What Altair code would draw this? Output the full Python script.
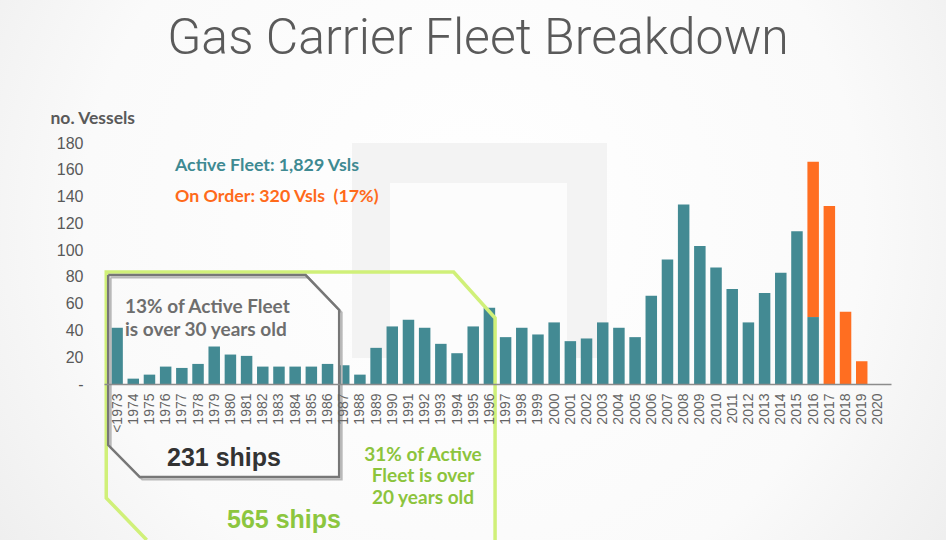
import json
import altair as alt
import pandas as pd

# ---------------- data ----------------
years = ['<1973', '1974', '1975', '1976', '1977', '1978', '1979', '1980', '1981', '1982',
         '1983', '1984', '1985', '1986', '1987', '1988', '1989', '1990', '1991', '1992',
         '1993', '1994', '1995', '1996', '1997', '1998', '1999', '2000', '2001', '2002',
         '2003', '2004', '2005', '2006', '2007', '2008', '2009', '2010', '2011', '2012',
         '2013', '2014', '2015', '2016', '2017', '2018', '2019', '2020']
active = [42, 4, 7, 13, 12, 15, 28, 22, 21, 13, 13, 13, 13, 15,
          14, 7, 27, 43, 48, 42, 30, 23, 43, 57,
          35, 42, 37, 46, 32, 34, 46, 42, 35, 66,
          93, 134, 103, 87, 71, 46, 68, 83, 114, 50,
          0, 0, 0, 0]
on_order = [0] * 43 + [116, 133, 54, 17, 0]
y_ticks = [0, 20, 40, 60, 80, 100, 120, 140, 160, 180]
y_tick_labels = ['-', '20', '40', '60', '80', '100', '120', '140', '160', '180']

# annotation outlines in data units (category index, vessels)
green_idx = [1.83, -0.67, -0.67, 20.79, 23.35, 23.35]
green_val = [-116.5, -85.1, 83.6, 83.6, 49.3, -116.5]
gray_idx = [-0.55, 11.65, 13.72, 13.72, 1.40, -0.55, -0.55]
gray_val = [81.4, 81.4, 55.3, -69.5, -69.5, -45.6, 81.4]

rows = []
for i, (lab, a, o) in enumerate(zip(years, active, on_order)):
    rows.append({'idx': i, 'year': lab, 'series': 'Active', 'base': 0, 'top': a})
    rows.append({'idx': i, 'year': lab, 'series': 'On Order', 'base': a, 'top': a + o})
bar_df = pd.DataFrame(rows)
bar_df = bar_df[bar_df['top'] > bar_df['base']]
green_df = pd.DataFrame({'k': range(len(green_idx)), 'idx': green_idx, 'val': green_val})
gray_df = pd.DataFrame({'k': range(len(gray_idx)), 'idx': gray_idx, 'val': gray_val})

W, H = 787, 241
PAD = {'left': 104, 'top': 143, 'right': 55, 'bottom': 156}

xscale = alt.Scale(domain=[-0.5, 47.5], nice=False, zero=False)
yscale = alt.Scale(domain=[0, 180], nice=False)

x_axis = alt.Axis(values=list(range(len(years))),
                  labelExpr=json.dumps(years) + '[datum.value]',
                  labelAngle=-90, labelAlign='right', labelBaseline='middle',
                  labelPadding=9, ticks=False, grid=False, title=None,
                  domainColor='#8c8c8c', domainWidth=1.5,
                  labelFont='Liberation Sans', labelFontSize=14,
                  labelColor='#646464', labelOverlap=False, labelFlush=False, zindex=1)
y_axis = alt.Axis(values=y_ticks,
                  labelExpr=json.dumps(y_tick_labels) + '[datum.value / 20]',
                  ticks=False, domain=False, grid=False, labelPadding=21,
                  labelFont='Liberation Sans', labelFontSize=16,
                  labelColor='#595959',
                  title='no. Vessels', titleAngle=0, titleX=-54, titleY=-25,
                  titleAlign='left', titleBaseline='middle', titleFont='Lato',
                  titleFontWeight='bold', titleFontSize=17.5, titleColor='#595959', zindex=1)

# ---------------- background ----------------
bg = alt.Chart(pd.DataFrame({'a': [0]})).mark_rect(
    fill=alt.RadialGradient(gradient='radial', x1=0.5, y1=0.45, x2=0.5, y2=0.45, r1=0, r2=0.75,
                            stops=[alt.GradientStop(offset=0, color='#ffffff'),
                                   alt.GradientStop(offset=0.55, color='#fafafa'),
                                   alt.GradientStop(offset=1, color='#e6e6e6')]),
    clip=False
).encode(x=alt.value(-PAD['left']), x2=alt.value(946 - PAD['left']),
         y=alt.value(-PAD['top']), y2=alt.value(540 - PAD['top']))

wm_outer = alt.Chart(pd.DataFrame({'a': [0]})).mark_rect(fill='#f3f3f3', clip=False).encode(
    x=alt.value(248), x2=alt.value(503), y=alt.value(0), y2=alt.value(215))
wm_inner = alt.Chart(pd.DataFrame({'a': [0]})).mark_rect(fill='#fcfcfc', clip=False).encode(
    x=alt.value(286), x2=alt.value(463), y=alt.value(40), y2=alt.value(215))

# ---------------- bars ----------------
bars = alt.Chart(bar_df).mark_bar(size=11.5, clip=False).encode(
    x=alt.X('idx:Q', scale=xscale, axis=x_axis),
    y=alt.Y('top:Q', scale=yscale, axis=y_axis),
    y2='base:Q',
    color=alt.Color('series:N', scale=alt.Scale(domain=['Active', 'On Order'],
                                                range=['#438a93', '#ff6e21']), legend=None),
)

# ---------------- outlines ----------------
def outline(df, color, width, dx=0, dy=0):
    return alt.Chart(df).mark_line(color=color, strokeWidth=width, clip=False,
                                   xOffset=dx, yOffset=dy).encode(
        x=alt.X('idx:Q', scale=xscale, axis=x_axis),
        y=alt.Y('val:Q', scale=yscale, axis=y_axis),
        order='k:Q')

green_line = outline(green_df, '#d0f079', 3.5)
gray_shadow = outline(gray_df, '#b9b9b9', 2, 2.5, 2.5)
gray_line = outline(gray_df, '#777777', 2.5)

# ---------------- texts ----------------
def txt(text, x, y, color, size, font='Lato', weight='bold', align='left'):
    return alt.Chart(pd.DataFrame({'a': [0]})).mark_text(
        text=text, font=font, fontSize=size, fontWeight=weight, color=color,
        align=align, baseline='middle', clip=False
    ).encode(x=alt.value(x), y=alt.value(y))

texts = [
    txt('Gas Carrier Fleet Breakdown', 374, -104, '#5a5a5a', 50, font='Roboto',
        weight=300, align='center'),
    txt('Active Fleet: 1,829 Vsls', 71, 23, '#3e8a92', 17.8),
    txt('On Order: 320 Vsls\u00a0\u00a0(17%)', 71, 54, '#ff6a1a', 17.8),
    txt('13% of Active Fleet', 21, 164, '#6e6e6e', 19),
    txt('is over 30 years old', 21, 187, '#6e6e6e', 19),
    txt('231 ships', 120, 315, '#333333', 25, font='Liberation Sans', align='center'),
    txt('565 ships', 180, 377, '#8cc63f', 25, font='Liberation Sans', align='center'),
    txt('31% of Active', 319, 312, '#8cc43c', 19, align='center'),
    txt('Fleet is over', 319, 333, '#8cc43c', 19, align='center'),
    txt('20 years old', 319, 355, '#8cc43c', 19, align='center'),
]

chart = alt.layer(bg, wm_outer, wm_inner, bars, green_line, gray_shadow, gray_line, *texts).properties(
    width=W, height=H, padding=PAD, autosize='none', background='#fafafa'
).configure_view(stroke=None)

chart.save('out.html', embed_options={'renderer': 'svg', 'actions': False})
